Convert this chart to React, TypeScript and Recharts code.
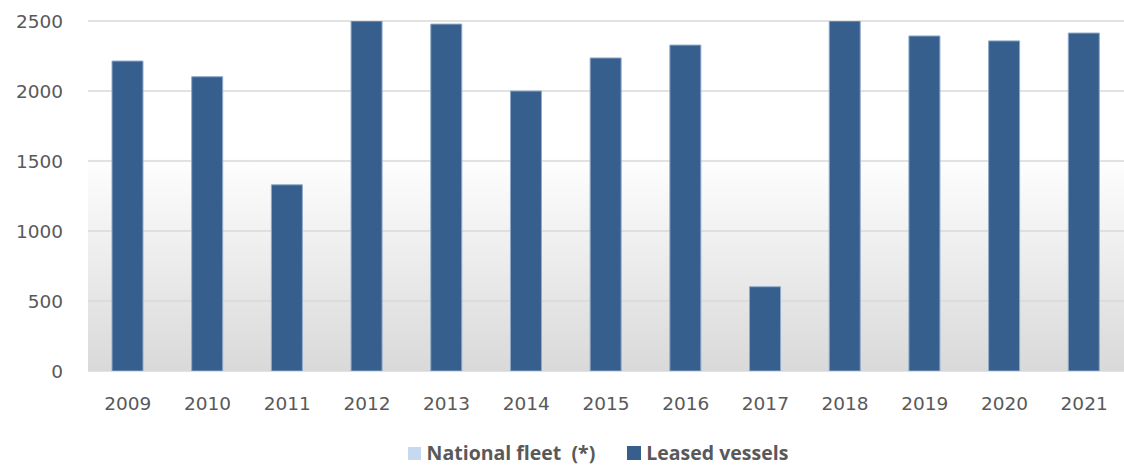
import React from "react";
import { BarChart, Bar, XAxis, YAxis, CartesianGrid, Legend } from "recharts";

const years = ["2009","2010","2011","2012","2013","2014","2015","2016","2017","2018","2019","2020","2021"];
const nationalFleet = [0,0,0,0,0,0,0,0,0,0,0,0,0];
const leasedVessels = [2214,2102,1330,2510,2478,2000,2236,2328,602,2510,2393,2358,2414];
const yTicks = [0,500,1000,1500,2000,2500];

const data = years.map((y, i) => ({ year: y, national: nationalFleet[i], leased: leasedVessels[i] }));

const LIGHT = "#C6D9F0";
const DARK = "#365F8E";
const AXIS_FONT = "'DejaVu Sans', sans-serif";

const renderLegend = () => (
  <div style={{ display: "flex", justifyContent: "center", alignItems: "center", fontFamily: "'Open Sans', sans-serif", fontWeight: 700, fontSize: 19.5, lineHeight: 1, color: "#595959", height: 20, paddingTop: 2, paddingLeft: 72 }}>
    <span style={{ display: "inline-block", width: 13, height: 13, background: LIGHT, marginRight: 6 }} />
    <span style={{ marginRight: 32, whiteSpace: "pre", lineHeight: 1 }}>National fleet  (*)</span>
    <span style={{ display: "inline-block", width: 14, height: 14, background: DARK, marginRight: 5 }} />
    <span style={{ lineHeight: 1 }}>Leased vessels</span>
  </div>
);

export default function App() {
  return (
    <div style={{ position: "absolute", left: 0, top: 0, background: "#fff" }}>
      <BarChart width={1124} height={467} data={data} margin={{ top: 21, right: 0, left: 0, bottom: 0 }} barCategoryGap={0}>
        <defs>
          <linearGradient id="bg" x1="0" y1="0" x2="0" y2="1">
            <stop offset="0%" stopColor="#ffffff" />
            <stop offset="38%" stopColor="#ffffff" />
            <stop offset="100%" stopColor="#d9d9d9" />
          </linearGradient>
        </defs>
        <CartesianGrid vertical={false} stroke="#d9d9d9" strokeWidth={1.5} fill="url(#bg)" />
        <XAxis dataKey="year" axisLine={false} tickLine={false} height={70} tickMargin={20}
          tick={{ fill: "#595959", fontSize: 18.5, fontFamily: AXIS_FONT }} interval={0} />
        <YAxis width={88} domain={[0, 2500]} ticks={yTicks} allowDataOverflow axisLine={false} tickLine={false} tickMargin={19}
          tick={{ fill: "#595959", fontSize: 18.5, fontFamily: AXIS_FONT }} />
        <Legend verticalAlign="bottom" height={26} content={renderLegend} />
        <Bar dataKey="national" name="National fleet  (*)" stackId="a" fill={LIGHT} barSize={31} isAnimationActive={false} />
        <Bar dataKey="leased" name="Leased vessels" stackId="a" fill={DARK} stroke="#8FAAC9" strokeWidth={1} barSize={31} isAnimationActive={false} />
      </BarChart>
    </div>
  );
}
